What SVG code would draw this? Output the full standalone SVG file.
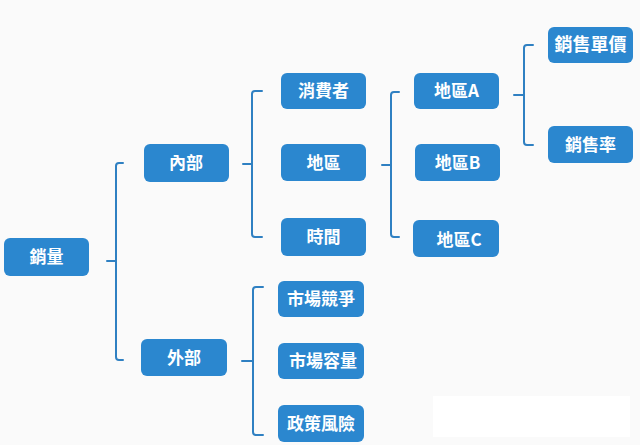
<svg xmlns="http://www.w3.org/2000/svg" width="640" height="445" viewBox="0 0 640 445">
<style>
.box{fill:#2b87cf}
.t{fill:#ffffff;font-family:"Noto Sans CJK TC","Noto Sans CJK SC",sans-serif;font-weight:bold;font-size:17px;text-anchor:middle}
.br{fill:none;stroke:#2f80c2;stroke-width:2;stroke-linecap:round;stroke-linejoin:round}
</style>
<rect x="0" y="0" width="640" height="445" fill="#fafafa"/>
<rect x="433" y="396" width="197" height="41" fill="#ffffff"/>
<g id="connectors">
<path class="br" d="M123,163 H119 Q116,163 116,166 V357 Q116,360 119,360 H123 M107,261 H116"/>
<path class="br" d="M262,91 H255 Q252,91 252,94 V234 Q252,237 255,237 H262 M243,164 H252"/>
<path class="br" d="M399,92 H394 Q391,92 391,95 V234 Q391,237 394,237 H399 M382,165 H391"/>
<path class="br" d="M533,45 H527 Q524,45 524,48 V142 Q524,145 527,145 H533 M514,95 H524"/>
<path class="br" d="M263,287 H256 Q253,287 253,290 V432 Q253,435 256,435 H263 M242,361 H253"/>
</g>
<g id="n-xiaoliang"><rect class="box" x="4" y="238" width="85" height="38" rx="6"/><text class="t" x="46.5" y="263">銷量</text></g>
<g id="n-neibu"><rect class="box" x="144" y="144" width="85" height="38" rx="6"/><text class="t" x="186" y="169">內部</text></g>
<g id="n-waibu"><rect class="box" x="141" y="339" width="86" height="37" rx="6"/><text class="t" x="184" y="363.5">外部</text></g>
<g id="n-xiaofeizhe"><rect class="box" x="281" y="73" width="85" height="36" rx="6"/><text class="t" x="323.5" y="97">消費者</text></g>
<g id="n-diqu"><rect class="box" x="281" y="144" width="85" height="37" rx="6"/><text class="t" x="323.5" y="168.5">地區</text></g>
<g id="n-shijian"><rect class="box" x="281" y="218" width="85" height="38" rx="6"/><text class="t" x="323.5" y="243">時間</text></g>
<g id="n-diqua"><rect class="box" x="414" y="73" width="85" height="36" rx="6"/><text class="t" x="456.5" y="97">地區A</text></g>
<g id="n-diqub"><rect class="box" x="415" y="144" width="85" height="37" rx="6"/><text class="t" x="457.5" y="168.5">地區B</text></g>
<g id="n-diquc"><rect class="box" x="413" y="220" width="86" height="37" rx="6"/><text class="t" x="459" y="245.5">地區C</text></g>
<g id="n-danjia"><rect class="box" x="548" y="27" width="85" height="36" rx="6"/><text class="t" x="590.5" y="51" style="font-size:18px">銷售單價</text></g>
<g id="n-xiaoshoulv"><rect class="box" x="548" y="126" width="85" height="37" rx="6"/><text class="t" x="590.5" y="150.5">銷售率</text></g>
<g id="n-jingzheng"><rect class="box" x="278" y="281" width="86" height="36" rx="6"/><text class="t" x="321" y="305">市場競爭</text></g>
<g id="n-rongliang"><rect class="box" x="278" y="343" width="86" height="36" rx="6"/><text class="t" x="323" y="367">市場容量</text></g>
<g id="n-fengxian"><rect class="box" x="278" y="405" width="86" height="37" rx="6"/><text class="t" x="321" y="429.5">政策風險</text></g>
</svg>
